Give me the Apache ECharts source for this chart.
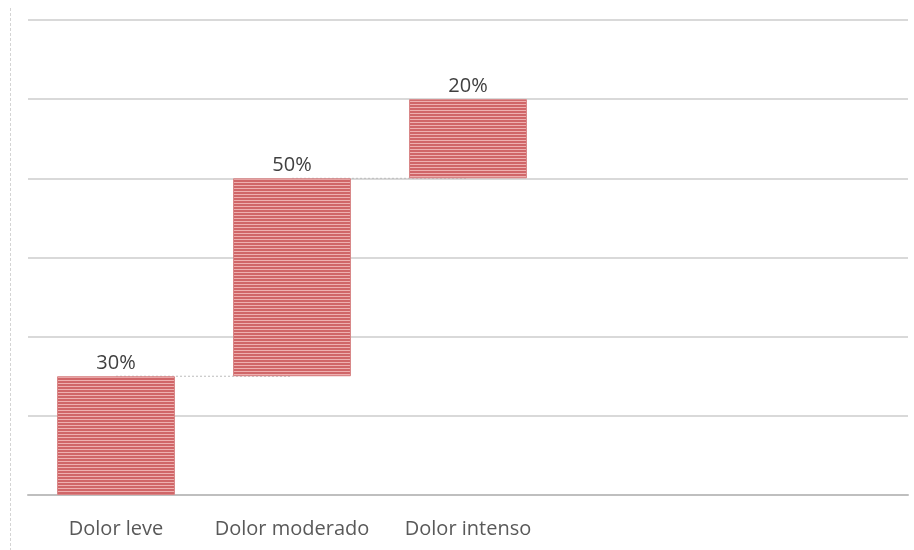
<!DOCTYPE html>
<html>
<head>
<meta charset="utf-8">
<script src="https://cdn.jsdelivr.net/npm/echarts@6/dist/echarts.min.js"></script>
<style>html,body{margin:0;padding:0;background:#fff}#c{width:914px;height:550px}</style>
</head>
<body>
<div id="c"></div>
<script>
var categories = ['Dolor leve', 'Dolor moderado', 'Dolor intenso', '', ''];
var values = [30, 50, 20];
var yTicks = [0, 20, 40, 60, 80, 100, 120];

// cumulative bases for waterfall
var bases = [];
var acc = 0;
for (var i = 0; i < values.length; i++) { bases.push(acc); acc += values[i]; }
var baseData = categories.map(function (c, i) { return i < values.length ? bases[i] : '-'; });
var valData = categories.map(function (c, i) { return i < values.length ? values[i] : '-'; });

// connector series (from top of bar i to bar i+1)
var connectors = [];
for (var j = 0; j < values.length - 1; j++) {
  var d = categories.map(function () { return '-'; });
  d[j] = bases[j] + values[j];
  d[j + 1] = bases[j] + values[j];
  connectors.push({
    type: 'line', data: d, symbol: 'none', z: 1, silent: true,
    lineStyle: { color: '#bdbdbd', width: 1, type: [2, 2] }
  });
}

// striped pattern
var cv = document.createElement('canvas');
cv.width = 4; cv.height = 3;
var ctx = cv.getContext('2d');
ctx.fillStyle = '#d06668'; ctx.fillRect(0, 0, 4, 2);
ctx.fillStyle = '#eeb0b0'; ctx.fillRect(0, 2, 4, 1);

var chart = echarts.init(document.getElementById('c'), null, { renderer: 'canvas' });
chart.setOption({
  animation: false,
  backgroundColor: '#fff',
  grid: { left: 28, right: 6, top: 20, bottom: 55, containLabel: false },
  graphic: [{
    type: 'line', shape: { x1: 10.5, y1: 8, x2: 10.5, y2: 550 },
    style: { stroke: '#d4d4d4', lineWidth: 1, lineDash: [3, 2] }
  }],
  xAxis: {
    type: 'category', data: categories,
    axisLine: { lineStyle: { color: '#bfbfbf', width: 2 } },
    axisTick: { show: false },
    axisLabel: { color: '#595959', fontSize: 20, fontFamily: 'Open Sans', margin: 24, interval: 0 }
  },
  yAxis: {
    type: 'value', min: yTicks[0], max: yTicks[yTicks.length - 1], interval: 20,
    axisLabel: { show: false }, axisLine: { show: false }, axisTick: { show: false },
    splitLine: { lineStyle: { color: '#d9d9d9', width: 2 } }
  },
  series: connectors.concat([
    {
      type: 'bar', stack: 'w', data: baseData, barWidth: '67%', z: 3,
      itemStyle: { color: 'transparent' }, silent: true
    },
    {
      type: 'bar', stack: 'w', data: valData, barWidth: '67%', z: 3,
      itemStyle: { color: { image: cv, repetition: 'repeat' }, borderColor: '#d88586', borderWidth: 1 },
      label: {
        show: true, position: 'top', distance: 3, color: '#404040', fontSize: 20, fontFamily: 'Open Sans',
        formatter: function (p) { return p.value + '%'; }
      }
    }
  ])
});
</script>
</body>
</html>
